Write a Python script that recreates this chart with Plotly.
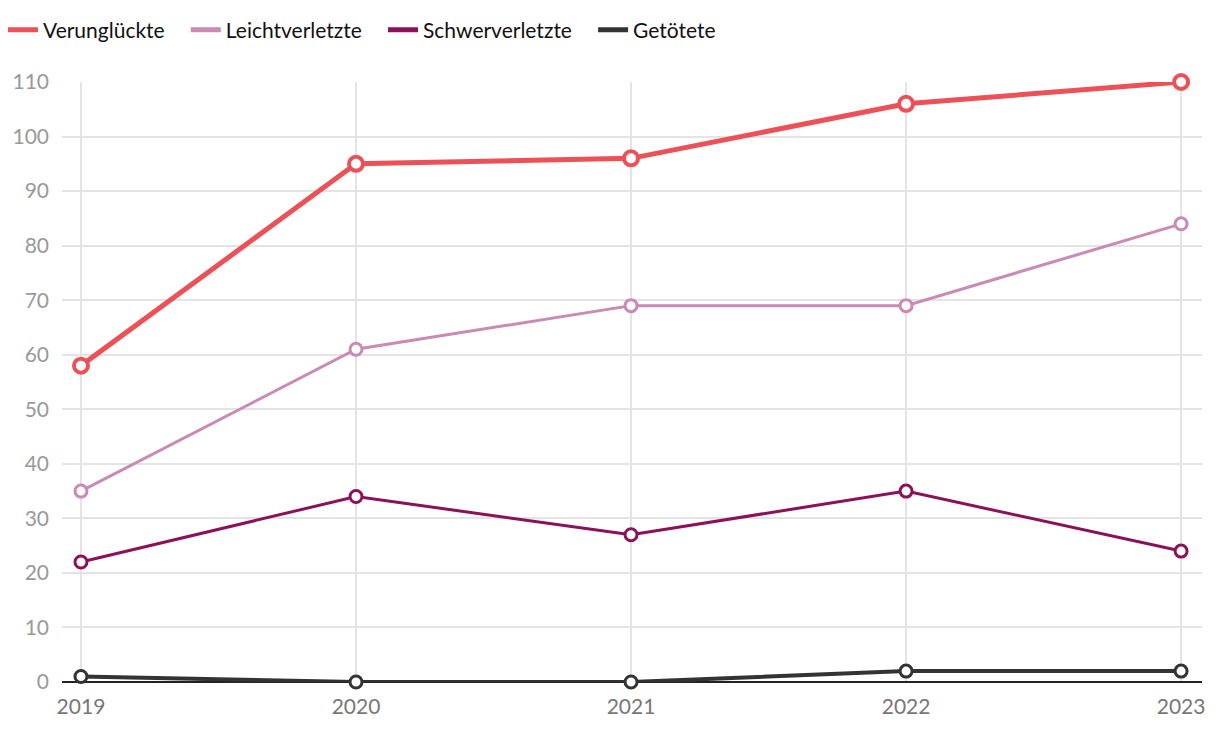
import plotly.graph_objects as go

years = [2019, 2020, 2021, 2022, 2023]
verunglueckte = [58, 95, 96, 106, 110]
leichtverletzte = [35, 61, 69, 69, 84]
schwerverletzte = [22, 34, 27, 35, 24]
getoetete = [1, 0, 0, 2, 2]

series = [
    ("Verunglückte", verunglueckte, "#ec5158", 5, 14, 4),
    ("Leichtverletzte", leichtverletzte, "#c98bb5", 3, 12, 3),
    ("Schwerverletzte", schwerverletzte, "#8b1159", 3, 12, 3),
    ("Getötete", getoetete, "#333333", 4, 12, 3),
]

fig = go.Figure()
for name, vals, color, w, ms, mw in series:
    fig.add_trace(go.Scatter(
        x=years, y=vals, name=name, mode="lines+markers",
        line=dict(color=color, width=w),
        marker=dict(symbol="circle", size=ms, color="white",
                    line=dict(color=color, width=mw)),
        cliponaxis=False, showlegend=False,
    ))
# legend-only entries (line symbols)
for name, vals, color, w, ms, mw in series:
    fig.add_trace(go.Scatter(
        x=[None], y=[None], name=name + "   ", mode="lines",
        line=dict(color=color, width=5), showlegend=True,
    ))

fig.update_layout(
    width=1220, height=732,
    margin=dict(l=59, r=18, t=82, b=50),
    plot_bgcolor="white", paper_bgcolor="white",
    font=dict(family="Lato", size=20, color="#999999"),
    showlegend=True,
    legend=dict(orientation="h", x=3 / 1220, y=1 - 30 / 732, xref="container", yref="container",
                xanchor="left", yanchor="middle",
                font=dict(family="Lato", size=21, color="#111111"),
                itemwidth=30, tracegroupgap=0, itemclick=False),
    xaxis=dict(range=[2018.931, 2023.076], tickvals=years,
               ticktext=[str(y) for y in years],
               showgrid=True, gridcolor="#e4e4e4", gridwidth=2,
               zeroline=False, showline=False, ticks="",
               tickfont=dict(color="#777777", size=21), ticklabelstandoff=10),
    yaxis=dict(range=[0, 110], dtick=10, showgrid=True, gridcolor="#e4e4e4",
               gridwidth=2, zeroline=True, zerolinecolor="#222222", zerolinewidth=2,
               showline=False, ticks="", tickfont=dict(color="#999999", size=21),
               ticklabelstandoff=12),
)

fig.write_html("out.html")
